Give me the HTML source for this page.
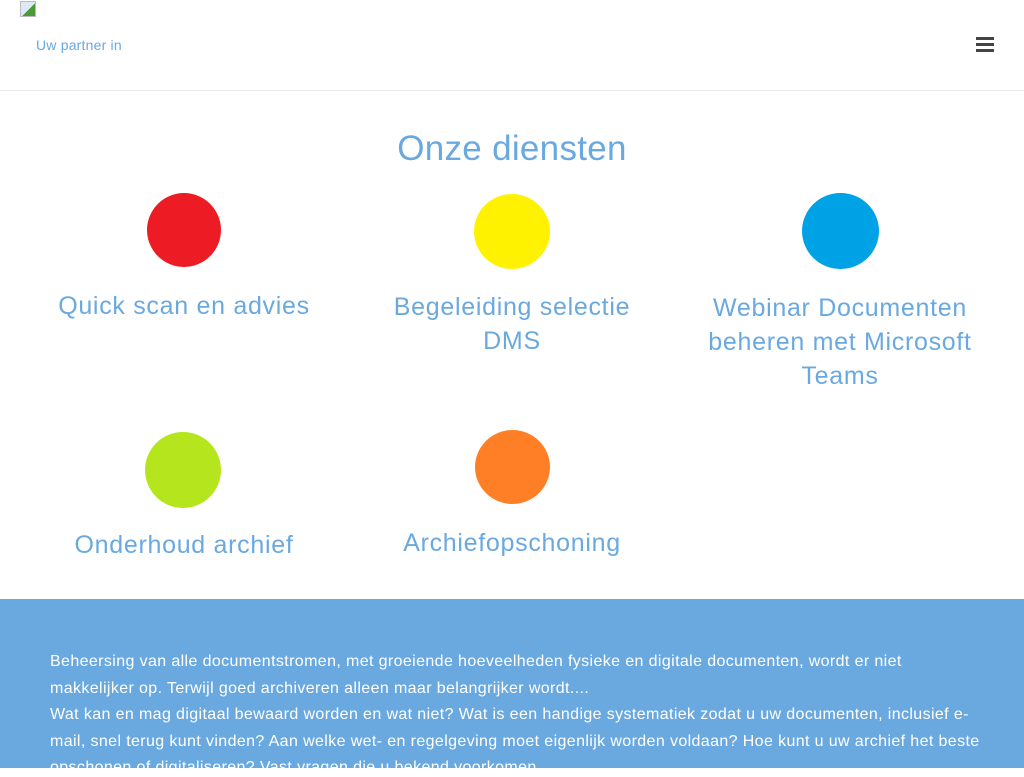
<!DOCTYPE html>
<html><head><meta charset="utf-8"><style>
body{margin:0;width:1024px;height:768px;overflow:hidden;background:#fff;font-family:"Liberation Sans",sans-serif;position:relative}
.a{position:absolute}
.c{position:absolute;border-radius:50%}
.t{position:absolute;width:328px;text-align:center;color:#6aa9e0;font-size:25px;line-height:34px;letter-spacing:0.7px}
.p{position:absolute;left:50px;color:#fff;font-size:16px;white-space:nowrap;letter-spacing:0.38px}
</style></head><body>
<div class="a" style="left:20px;top:1px;width:14px;height:14px;border:1px solid #bbb;background:linear-gradient(135deg,#dfe8f5 55%,#4a9a3a 55%)"></div>
<div class="a" style="left:36px;top:37px;font-size:14px;color:#6aa9e0;letter-spacing:0.2px">Uw partner in</div>
<div class="a" style="left:976px;top:37px;width:18px;height:3px;background:#444;box-shadow:0 6px 0 #444,0 12px 0 #444"></div>
<div class="a" style="left:0;top:90px;width:1024px;height:1px;background:#eaeaea"></div>
<div class="a" style="left:0;top:129px;width:1024px;text-align:center;font-size:35px;color:#6aa9e0;letter-spacing:0.3px">Onze diensten</div>
<div class="c" style="left:147px;top:193px;width:74px;height:74px;background:#ed1c24"></div>
<div class="c" style="left:474px;top:194px;width:76px;height:75px;background:#fff200"></div>
<div class="c" style="left:802px;top:193px;width:77px;height:76px;background:#00a2e6"></div>
<div class="c" style="left:145px;top:432px;width:76px;height:76px;background:#b5e61d"></div>
<div class="c" style="left:475px;top:430px;width:75px;height:74px;background:#ff7f27"></div>
<div class="t" style="left:20px;top:289px">Quick scan en advies</div>
<div class="t" style="left:348px;top:290px">Begeleiding selectie<br>DMS</div>
<div class="t" style="left:676px;top:291px">Webinar Documenten<br>beheren met Microsoft<br>Teams</div>
<div class="t" style="left:20px;top:528px">Onderhoud archief</div>
<div class="t" style="left:348px;top:526px">Archiefopschoning</div>
<div class="a" style="left:0;top:599px;width:1024px;height:169px;background:#6aa9e0"></div>
<div class="p" style="top:653px">Beheersing van alle documentstromen, met groeiende hoeveelheden fysieke en digitale documenten, wordt er niet</div>
<div class="p" style="top:680px">makkelijker op. Terwijl goed archiveren alleen maar belangrijker wordt....</div>
<div class="p" style="top:706px">Wat kan en mag digitaal bewaard worden en wat niet? Wat is een handige systematiek zodat u uw documenten, inclusief e-</div>
<div class="p" style="top:733px">mail, snel terug kunt vinden? Aan welke wet- en regelgeving moet eigenlijk worden voldaan? Hoe kunt u uw archief het beste</div>
<div class="p" style="top:759px">opschonen of digitaliseren? Vast vragen die u bekend voorkomen.</div>
</body></html>
